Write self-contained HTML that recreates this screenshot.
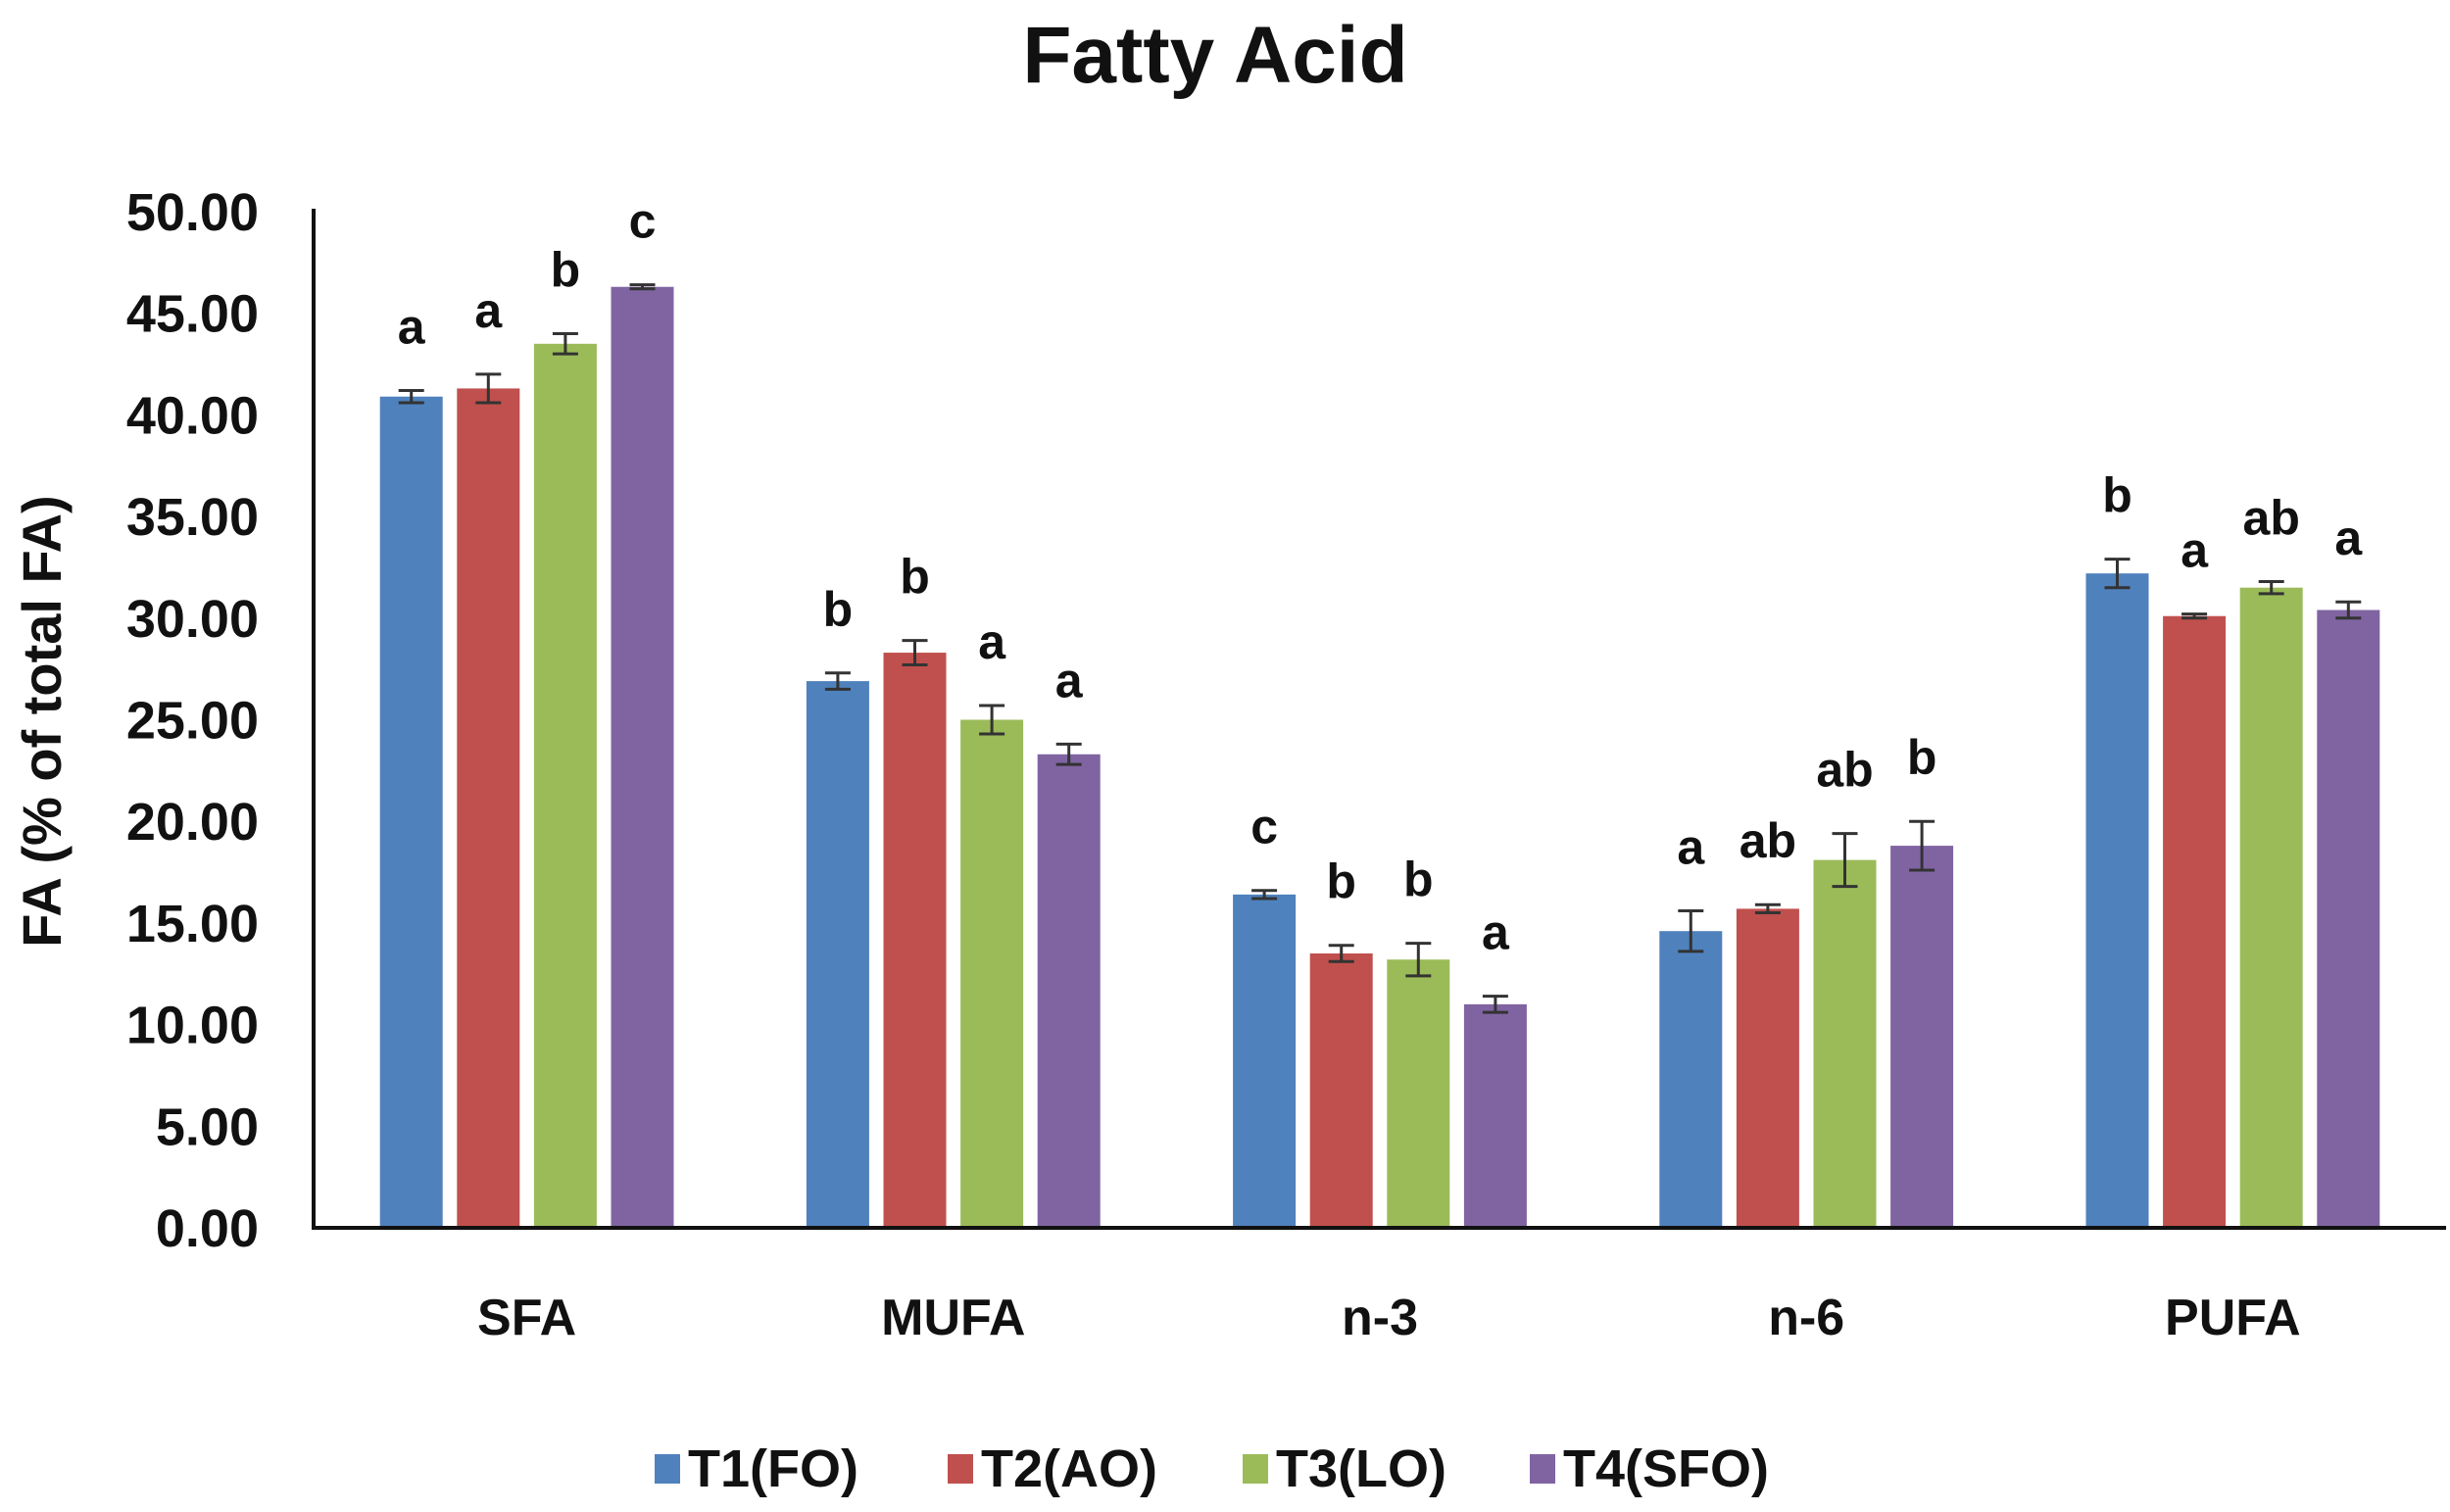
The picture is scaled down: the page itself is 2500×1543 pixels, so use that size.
<!DOCTYPE html>
<html><head><meta charset="utf-8"><style>
html,body{margin:0;padding:0;background:#fff;width:2500px;height:1543px;overflow:hidden}
svg text{font-family:"Liberation Sans",sans-serif;font-weight:bold;fill:#111}
</style></head><body>
<svg id="chart" width="2500" height="1543" xmlns="http://www.w3.org/2000/svg">
<text x="1240" y="84" font-size="82" text-anchor="middle">Fatty Acid</text>
<text transform="translate(62,736) rotate(-90)" font-size="56" text-anchor="middle">FA (% of total FA)</text>
<g id="plot"></g>
<g id="legend"></g>
</svg>
<script>
const categories = ["SFA","MUFA","n-3","n-6","PUFA"];
const seriesNames = ["T1(FO)","T2(AO)","T3(LO)","T4(SFO)"];
const colors = ["#4f81bd","#c0504d","#9bbb59","#8064a2"];
const t1 = [40.9,26.9,16.4,14.6,32.2];
const t2 = [41.3,28.3,13.5,15.7,30.1];
const t3 = [43.5,25.0,13.2,18.1,31.5];
const t4 = [46.3,23.3,11.0,18.8,30.4];
const e1 = [0.3,0.4,0.2,1.0,0.7];
const e2 = [0.7,0.6,0.4,0.2,0.1];
const e3 = [0.5,0.7,0.8,1.3,0.3];
const e4 = [0.1,0.5,0.4,1.2,0.4];
const l1 = ["a","b","c","a","b"];
const l2 = ["a","b","b","ab","a"];
const l3 = ["b","a","b","ab","ab"];
const l4 = ["c","a","a","b","a"];
const yTicks = [0,5,10,15,20,25,30,35,40,45,50];

const values=[t1,t2,t3,t4], errs=[e1,e2,e3,e4], letters=[l1,l2,l3,l4];
const NS="http://www.w3.org/2000/svg";
const X0=320, X1=2496, Y0=1253, Y50=216;
const bandW=(X1-X0)/categories.length;
function y(v){return Y0-(v/50)*(Y0-Y50);}
function xc(i){return X0+bandW*(i+0.5);}
const barStep=78.6, barW=64;
const plot=document.getElementById('plot');
function mk(tag,attrs,parent){const e=document.createElementNS(NS,tag);for(const k in attrs)e.setAttribute(k,attrs[k]);(parent||plot).appendChild(e);return e;}

yTicks.forEach(t=>{
  const tx=mk('text',{x:264,y:y(t)+19,'font-size':54,'text-anchor':'end'});
  
  
  tx.textContent=t.toFixed(2);
});
categories.forEach((c,i)=>{
  const tx=mk('text',{x:xc(i),y:1362,'font-size':52,'text-anchor':'middle'});
  
  
  tx.textContent=c;
  values.forEach((s,j)=>{
    const cx=xc(i)+(j-1.5)*barStep;
    const v=s[i], e=errs[j][i];
    const r=mk('rect',{x:cx-barW/2,y:y(v),width:barW,height:Y0-y(v),fill:colors[j]});
    
    
    const g=mk('path',{d:`M${cx} ${y(v+e)}V${y(v-e)}M${cx-13} ${y(v+e)}H${cx+13}M${cx-13} ${y(v-e)}H${cx+13}`,stroke:'#333','stroke-width':3,fill:'none'});
    
    
    const lt=mk('text',{x:cx,y:y(v+e)-48,'font-size':50,'text-anchor':'middle'});
    
    
    lt.textContent=letters[j][i];
  });
});
const ax=mk('path',{d:`M${X0} 213V${Y0}H${X1}`,stroke:'#111','stroke-width':4,fill:'none'});



const leg=document.getElementById('legend');
const legX=[668,967,1268,1561];
seriesNames.forEach((n,j)=>{
  const r=mk('rect',{x:legX[j],y:1484,width:26,height:30,fill:colors[j]},leg);
  
  
  const t=mk('text',{x:legX[j]+34,y:1517,'font-size':54},leg);
  
  
  t.textContent=n;
});
</script>
</body></html>
